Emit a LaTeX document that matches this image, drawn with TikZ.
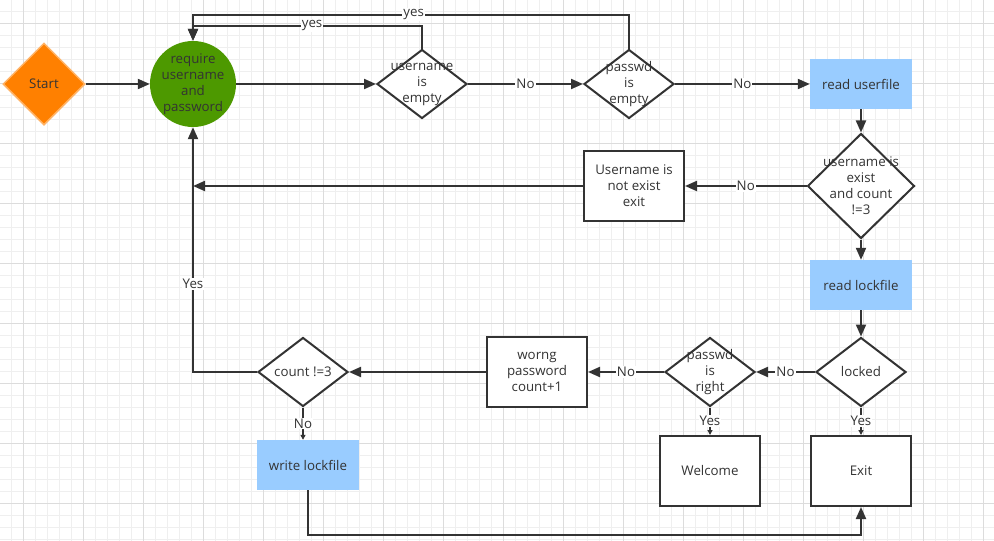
\documentclass[tikz,border=0pt]{standalone}
\usepackage{fontspec}
\setmainfont{Open Sans}
\usetikzlibrary{arrows.meta,positioning,shapes.geometric}
\definecolor{ink}{HTML}{333333}
\definecolor{startorange}{HTML}{FF8000}
\definecolor{startedge}{HTML}{FFB366}
\definecolor{okgreen}{HTML}{4D9900}
\definecolor{fileblue}{HTML}{99CCFF}
\definecolor{gridminor}{HTML}{EFEFEF}
\definecolor{gridmajor}{HTML}{DCDCDC}
\tikzset{
    %Define standard arrow tip
    >={Triangle[length=12pt,width=10pt]},
    %Define style for boxes
    startnode/.style={
           diamond,
           draw=startedge, line width=1.5pt,
           minimum width=82pt,
           minimum height=82pt,
           inner sep=0pt,
           fill=startorange},
    decision/.style={
           diamond,
           draw=ink, line width=2pt,
           minimum width=90pt,
           minimum height=69pt,
           inner sep=0pt,
           fill=white},
    dtext/.style={
           font=\fontsize{13.3}{16}\selectfont,
           text=ink,
           align=center,
           inner sep=0pt},
    process/.style={
           rectangle,
           draw=ink, line width=2pt,
           minimum width=100pt,
           minimum height=70pt,
           font=\fontsize{13.3}{16}\selectfont,
           text=ink,
           align=center,
           fill=white},
    filenode/.style={
           rectangle,
           minimum width=102pt,
           minimum height=50pt,
           font=\fontsize{13.3}{16}\selectfont,
           text=ink,
           fill=fileblue},
    % Define arrow style
    pil/.style={
           ->,
           draw=ink,
           line width=2pt},
    shortpil/.style={
           -{Triangle[length=5pt,width=5pt]},
           draw=ink,
           line width=2pt},
    lbl/.style={
           fill=white,
           text=ink,
           font=\fontsize{13.3}{16}\selectfont,
           inner sep=1pt}
}

\begin{document}
\begin{tikzpicture}[x=1pt,y=-1pt,on grid]
\useasboundingbox (0,0) rectangle (994,541);
% background grid
\foreach \gx in {11,23,...,994} \draw[gridminor,line width=0.8pt] (\gx,0) -- (\gx,541);
\foreach \gy in {11,23,...,541} \draw[gridminor,line width=0.8pt] (0,\gy) -- (994,\gy);
\foreach \gx in {23,83,...,994} \draw[gridmajor,line width=0.8pt] (\gx,0) -- (\gx,541);
\foreach \gy in {23,83,...,541} \draw[gridmajor,line width=0.8pt] (0,\gy) -- (994,\gy);

\node[startnode, label={[dtext]center:Start}] (start) at (44,84) {};
\node[circle, fill=okgreen, minimum size=86pt, inner sep=0pt, right=149pt of start,
      label={[dtext]center:require\\username\\and\\password}] (circ) {};
\node[decision, right=229pt of circ, label={[dtext]center:username\\is\\empty}] (uname) {};
\node[decision, right=207pt of uname, label={[dtext]center:passwd\\is\\empty}] (pwd) {};
\node[filenode, right=232pt of pwd] (ruser) {read userfile};
\node[decision, minimum width=107pt, minimum height=105pt, below=102pt of ruser,
      label={[dtext]center:username is\\exist\\and count\\!=3}] (exist) {};
\node[process, left=227pt of exist] (notexist) {Username is\\not exist\\exit};
\node[filenode, below=99pt of exist] (rlock) {read lockfile};
\node[decision, below=87pt of rlock, label={[dtext]center:locked}] (locked) {};
\node[decision, left=151pt of locked, label={[dtext]center:passwd\\is\\right}] (pright) {};
\node[process, left=173pt of pright] (wrong) {worng\\password\\count+1};
\node[decision, left=234pt of wrong, label={[dtext]center:count !=3}] (count) {};
\node[filenode, below=93pt of count, xshift=5pt] (wlock) {write lockfile};
\node[process, below=99pt of pright] (welcome) {Welcome};
\node[process, below=99pt of locked] (exitb) {Exit};

\draw[pil] (start) -- (circ);
\draw[pil] (circ) -- (uname);
\draw[pil] (uname) -- node[lbl]{No} (pwd);
\draw[pil] (pwd) -- node[lbl]{No} (ruser);
\draw[pil] (uname.north) -- ++(0,-23) -| node[lbl,pos=0.24]{yes} (circ.north);
\draw[pil] (pwd.north) -- ++(0,-34) -| node[lbl,pos=0.247]{yes} (circ.north);
\draw[pil] (ruser) -- (exist);
\draw[pil] (exist) -- node[lbl]{No} (notexist);
\draw[pil] (notexist.west) -- (notexist.west -| circ);
\draw[pil] (exist) -- (rlock);
\draw[pil] (rlock) -- (locked);
\draw[pil] (locked) -- node[lbl]{No} (pright);
\draw[pil] (pright) -- node[lbl]{No} (wrong);
\draw[pil] (wrong) -- (count);
\draw[pil] (count.west) -| node[lbl,pos=0.68]{Yes} (circ.south);
\draw[shortpil] (count.south) -- node[lbl]{No} (count.south |- wlock.north);
\draw[shortpil] (pright) -- node[lbl]{Yes} (welcome);
\draw[shortpil] (locked) -- node[lbl]{Yes} (exitb);
\draw[pil] (wlock.south) -- ++(0,45) -| (exitb.south);
\end{tikzpicture}
\end{document}
